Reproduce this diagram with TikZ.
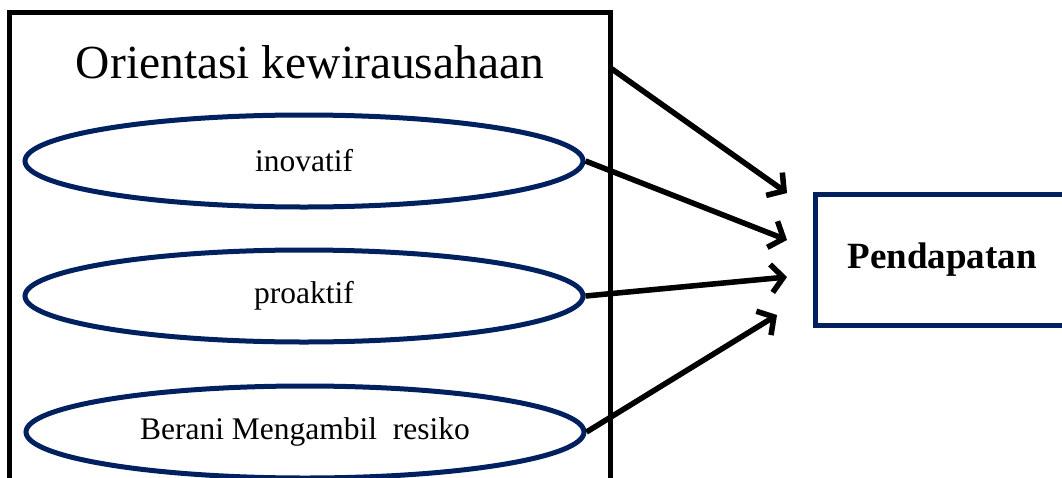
\documentclass[tikz,border=0pt]{standalone}
\usepackage{fontspec}
\setmainfont{Liberation Serif}
\usetikzlibrary{arrows.meta,shapes.geometric}
\definecolor{navy}{RGB}{0,32,96}
\begin{document}
\begin{tikzpicture}[x=1pt,y=-1pt,
  oval/.style={ellipse, draw=navy, line width=5pt, minimum width=558pt, minimum height=92pt, inner sep=0pt, font=\fontsize{31.5}{34}\selectfont},
  frame/.style={draw, line width=5pt, inner sep=0pt, outer sep=0pt, anchor=north west},
  link/.style={line width=5.5pt, -{Straight Barb[length=12pt,width=28pt]}},
  shade/.style={link, draw=black, opacity=0.12, xshift=2pt, yshift=-4pt}]
\useasboundingbox (0,0) rectangle (1062,477);
\node[frame, minimum width=601.5pt, minimum height=520pt] (orient) at (9,12.5) {};
\node[font=\fontsize{47.5}{50}\selectfont, anchor=base] (title) at (310,78) {Orientasi kewirausahaan};
\node[oval] (e1) at (304,161) {inovatif};
\node[oval] (e2) at (304,296) {proaktif};
\node[oval] (e3) at (305,432) {Berani Mengambil\ \ resiko};
\node[frame, draw=navy, minimum width=280pt, minimum height=131pt] (pend) at (815,194.5) {};
\node[font=\bfseries\fontsize{37}{40}\selectfont] (ptext) at (942,260) {Pendapatan};
\coordinate (o1) at (610.5,68);
\coordinate (t1) at (787,193);
\coordinate (t2) at (787,240);
\coordinate (t3) at (787,277);
\coordinate (t4) at (777,315);
\draw[shade] (o1) -- (t1);
\draw[shade] (e1.east) -- (t2);
\draw[shade] (e2.east) -- (t3);
\draw[shade] (e3.east) -- (t4);
\draw[link] (o1) -- (t1);
\draw[link] (e1.east) -- (t2);
\draw[link] (e2.east) -- (t3);
\draw[link] (e3.east) -- (t4);
\end{tikzpicture}
\end{document}
